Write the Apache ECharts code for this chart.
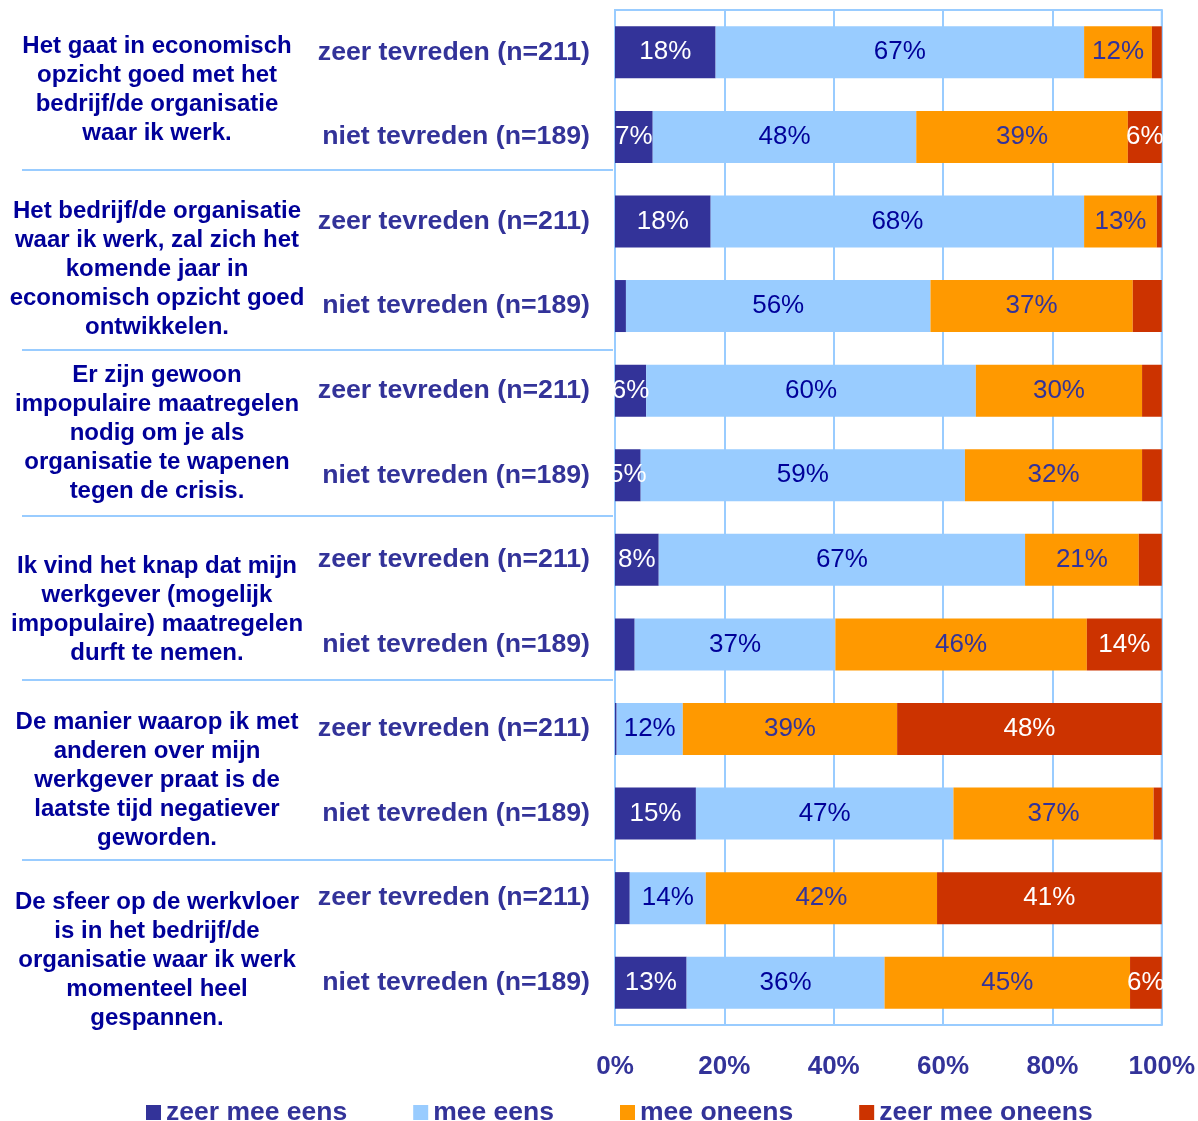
<!DOCTYPE html>
<html>
<head>
<meta charset="utf-8">
<script src="https://cdn.jsdelivr.net/npm/echarts@6/dist/echarts.min.js"></script>
<style>
  html, body { margin: 0; padding: 0; background: #fff; }
  #chart { width: 1198px; height: 1121px; }
</style>
</head>
<body>
<div id="chart"></div>
<script>
  // statements (one per pair of rows)
  var groups = [
    'Het gaat in economisch\nopzicht goed met het\nbedrijf/de organisatie\nwaar ik werk.',
    'Het bedrijf/de organisatie\nwaar ik werk, zal zich het\nkomende jaar in\neconomisch opzicht goed\nontwikkelen.',
    'Er zijn gewoon\nimpopulaire maatregelen\nnodig om je als\norganisatie te wapenen\ntegen de crisis.',
    'Ik vind het knap dat mijn\nwerkgever (mogelijk\nimpopulaire) maatregelen\ndurft te nemen.',
    'De manier waarop ik met\nanderen over mijn\nwerkgever praat is de\nlaatste tijd negatiever\ngeworden.',
    'De sfeer op de werkvloer\nis in het bedrijf/de\norganisatie waar ik werk\nmomenteel heel\ngespannen.'
  ];
  var rowLabels = [
    'zeer tevreden (n=211)', 'niet tevreden (n=189)',
    'zeer tevreden (n=211)', 'niet tevreden (n=189)',
    'zeer tevreden (n=211)', 'niet tevreden (n=189)',
    'zeer tevreden (n=211)', 'niet tevreden (n=189)',
    'zeer tevreden (n=211)', 'niet tevreden (n=189)',
    'zeer tevreden (n=211)', 'niet tevreden (n=189)'
  ];
  var seriesNames = ['zeer mee eens', 'mee eens', 'mee oneens', 'zeer mee oneens'];
  var zeerMeeEens   = [18.4, 6.9, 17.5, 2.0, 5.7, 4.7, 8.0, 3.6, 0.3, 14.8, 2.7, 13.1];
  var meeEens       = [67.4, 48.2, 68.3, 55.7, 60.3, 59.3, 67.0, 36.7, 12.1, 47.1, 13.9, 36.2];
  var meeOneens     = [12.4, 38.7, 13.3, 37.0, 30.4, 32.4, 20.8, 46.0, 39.2, 36.6, 42.3, 44.9];
  var zeerMeeOneens = [1.8, 6.2, 0.9, 5.3, 3.6, 3.6, 4.2, 13.7, 48.4, 1.5, 41.1, 5.8];
  var xTicks = [0, 20, 40, 60, 80, 100];
  // segments whose label is not printed in the original: [row, series]
  var hiddenLabels = [[3, 3]];

  var colors = ['#333399', '#99CCFF', '#FF9900', '#CC3300'];
  var labelColors = ['#ffffff', '#000099', '#333399', '#ffffff'];
  var font = "'Liberation Sans', Arial, sans-serif";
  // small nudges so the statement texts and separators sit as in the original
  var groupShift = [-5, 6, 0, 8, 9, 20];
  var sepShift = [-9, 2, -2, -7, 4];

  function makeSeries(values, k) {
    return {
      name: seriesNames[k],
      type: 'bar',
      stack: 'total',
      barWidth: 52,
      itemStyle: { color: colors[k] },
      label: {
        show: true,
        position: 'inside',
        color: labelColors[k],
        fontFamily: font,
        fontSize: 26,
        formatter: function (p) { return Math.round(p.value) + '%'; }
      },
      data: values.map(function (v, i) {
        var hide = v < 4.5 || hiddenLabels.some(function (h) { return h[0] === i && h[1] === k; });
        return hide ? { value: v, label: { show: false } } : v;
      })
    };
  }

  var myChart = echarts.init(document.getElementById('chart'));

  myChart.setOption({
    animation: false,
    grid: {
      left: 615,
      right: 35,
      top: 10,
      bottom: 96,
      show: true,
      borderColor: '#99CCFF',
      borderWidth: 2
    },
    legend: {
      data: seriesNames,
      left: 141,
      top: 1094,
      icon: 'rect',
      itemWidth: 15,
      itemHeight: 15,
      itemGap: 66,
      selectedMode: false,
      textStyle: { color: '#333399', fontFamily: font, fontWeight: 'bold', fontSize: 26.5 }
    },
    xAxis: {
      type: 'value',
      min: xTicks[0],
      max: xTicks[xTicks.length - 1],
      interval: xTicks[1] - xTicks[0],
      axisLine: { show: false },
      axisTick: { show: false },
      splitLine: { show: true, lineStyle: { color: '#99CCFF', width: 2 } },
      axisLabel: {
        margin: 29,
        formatter: '{value}%',
        color: '#333399',
        fontFamily: font,
        fontWeight: 'bold',
        fontSize: 26
      }
    },
    yAxis: {
      type: 'category',
      inverse: true,
      data: rowLabels,
      axisLine: { show: false },
      axisTick: { show: false },
      axisLabel: {
        margin: 25,
        color: '#333399',
        fontFamily: font,
        fontWeight: 'bold',
        fontSize: 26.7
      }
    },
    series: [
      makeSeries(zeerMeeEens, 0),
      makeSeries(meeEens, 1),
      makeSeries(meeOneens, 2),
      makeSeries(zeerMeeOneens, 3)
    ]
  });

  // statement texts and separator lines, placed from the category axis
  var elements = [];
  groups.forEach(function (txt, g) {
    var y1 = myChart.convertToPixel({ yAxisIndex: 0 }, 2 * g);
    var y2 = myChart.convertToPixel({ yAxisIndex: 0 }, 2 * g + 1);
    elements.push({
      type: 'text',
      x: 157,
      y: (y1 + y2) / 2 + groupShift[g],
      style: {
        text: txt,
        fill: '#000099',
        font: 'bold 24px ' + font,
        align: 'center',
        verticalAlign: 'middle',
        lineHeight: 29
      }
    });
    if (g < groups.length - 1) {
      var y3 = myChart.convertToPixel({ yAxisIndex: 0 }, 2 * g + 2);
      var ys = Math.round((y2 + y3) / 2) + sepShift[g];
      elements.push({
        type: 'line',
        shape: { x1: 22, y1: ys, x2: 613, y2: ys },
        style: { stroke: '#99CCFF', lineWidth: 2 }
      });
    }
  });
  myChart.setOption({ graphic: elements });
</script>
</body>
</html>
